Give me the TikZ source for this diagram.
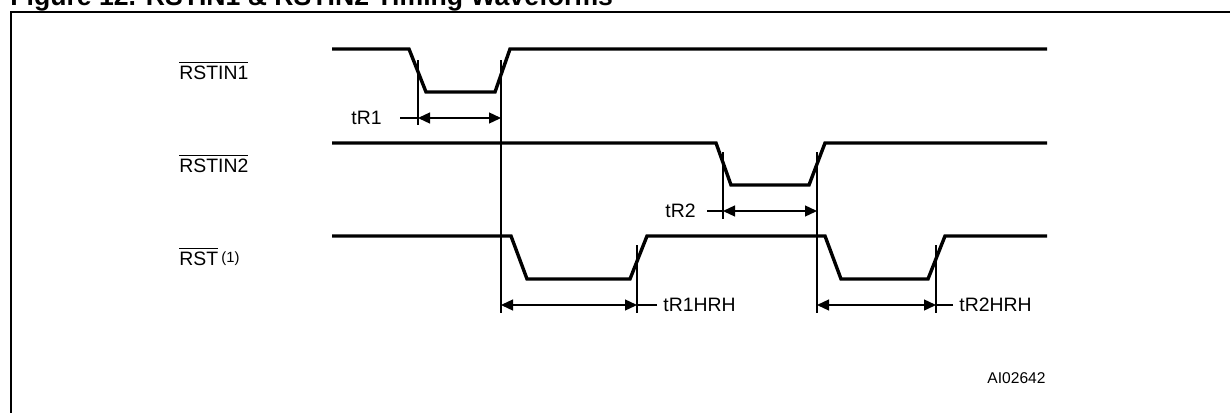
\documentclass[tikz,border=0pt]{standalone}
\usepackage{fontspec}
\setmainfont{Liberation Sans}
\usetikzlibrary{arrows.meta}
\begin{document}
\begin{tikzpicture}[x=0.5pt, y=-0.5pt, wave/.style={line width=1.7pt, line join=miter}, guide/.style={line width=0.65pt}, dim/.style={line width=0.65pt, {Triangle[length=6pt, width=5.5pt]}-{Triangle[length=6pt, width=5.5pt]}}, sig/.style={anchor=base west, inner sep=0pt, font=\fontsize{9.7}{11}\selectfont}, tlbl/.style={inner sep=0pt, font=\fontsize{9.7}{11}\selectfont}]
    \useasboundingbox (0,0) rectangle (1230,412);
    \clip (0,0) rectangle (1230,412);
    \node[anchor=base west, inner sep=0pt, font=\fontsize{13.3}{15}\selectfont\bfseries](title) at (10,5) {Figure 12. RSTIN1 \& RSTIN2 Timing Waveforms};
    \draw[line width=1.25pt] (11,430) -- (11,12) -- (1250,12);

    \node[sig](in1) at (179,79) {$\overline{\mbox{RSTIN1}}$};
    \node[sig](in2) at (179,172) {$\overline{\mbox{RSTIN2}}$};
    \node[sig](rst) at (179,265) {$\overline{\mbox{RST}}$\,{\fontsize{7.4}{8}\selectfont\raisebox{1.2pt}{(1)}}};
    \node[anchor=base west, inner sep=0pt, font=\fontsize{7.8}{9}\selectfont](code) at (987,383) {AI02642};

    \draw[wave] (332,49) -- (409,49) -- (426,92) -- (495,92) -- (510,49) -- (1047,49);
    \draw[wave] (332,143) -- (716,143) -- (731,185) -- (809,185) -- (825,143) -- (1047,143);
    \draw[wave] (332,236) -- (511,236) -- (527,279) -- (630,279) -- (647,236) -- (825,236) -- (841,279) -- (928,279) -- (945,236) -- (1047,236);

\foreach \n/\x/\a/\b in {m1/418/60/125, m2/501/60/313, m3/723/152/219, m4/817/152/313, m5/637/245/313, m6/936/245/313}{
    \coordinate (\n top) at (\x,\a);
    \coordinate (\n bot) at (\x,\b);
    \draw[guide] (\n top) -- (\n bot);}

    \node[tlbl, anchor=east](tR1) at (382,118) {tR1};
    \node[tlbl, anchor=east](tR2) at (696,211) {tR2};
    \node[tlbl, anchor=west](tR1HRH) at (663,305) {tR1HRH};
    \node[tlbl, anchor=west](tR2HRH) at (959,305) {tR2HRH};
    \coordinate (k1) at (400,118);
    \coordinate (k2) at (707,211);
    \coordinate (k3) at (657,305);
    \coordinate (k4) at (953,305);

\foreach \s/\t in {k1/m1top, k2/m3top, k3/m5top, k4/m6top}{
    \draw[guide] (\s) -- (\t |- \s);}
\foreach \s/\t/\k in {m1top/m2top/k1, m3top/m4top/k2, m2top/m5top/k3, m4top/m6top/k4}{
    \draw[dim] (\s |- \k) -- (\t |- \k);}
\end{tikzpicture}
\end{document}
